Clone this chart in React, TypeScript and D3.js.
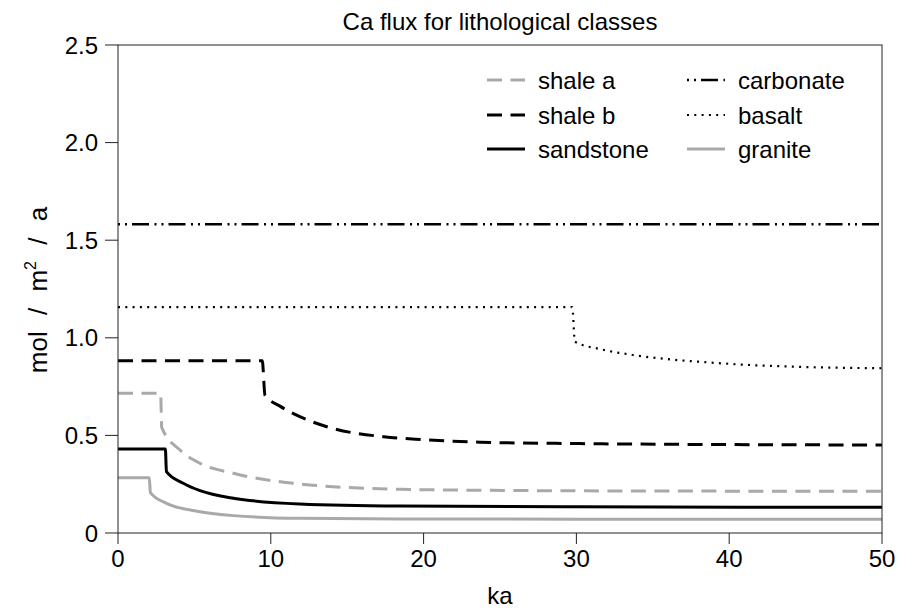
import React from "react";
import * as d3 from "d3";

const title = "Ca flux for lithological classes";
const xTicks = [0, 10, 20, 30, 40, 50];
const yTicks = [0, 0.5, 1.0, 1.5, 2.0, 2.5];
const yTickLabels = ["0", "0.5", "1.0", "1.5", "2.0", "2.5"];

const carbonateT = [0, 50];
const carbonateV = [1.582, 1.582];

const basaltT = [0, 29.73, 29.9, 31.5, 33.7, 35.9, 38.1, 41, 44.2, 50];
const basaltV = [1.157, 1.157, 0.98, 0.943, 0.912, 0.891, 0.877, 0.862, 0.852, 0.844];

const shaleBT = [0, 9.44, 9.62, 10.6, 11.9, 14, 17.4, 20, 23.7, 30.2, 40, 50];
const shaleBV = [0.883, 0.883, 0.705, 0.65, 0.596, 0.537, 0.493, 0.478, 0.465, 0.458, 0.453, 0.451];

const shaleAT = [0, 2.79, 2.86, 4.06, 5.37, 7.55, 11.9, 18.45, 23.7, 35, 50];
const shaleAV = [0.716, 0.716, 0.541, 0.425, 0.357, 0.306, 0.251, 0.224, 0.219, 0.215, 0.214];

const sandstoneT = [0, 3.1, 3.17, 4.27, 5.37, 7.55, 11.9, 18.45, 30, 50];
const sandstoneV = [0.43, 0.43, 0.314, 0.255, 0.217, 0.178, 0.149, 0.138, 0.134, 0.132];

const graniteT = [0, 2.05, 2.12, 3.18, 5.37, 7.55, 11.9, 18.45, 30, 50];
const graniteV = [0.283, 0.283, 0.207, 0.152, 0.109, 0.089, 0.075, 0.072, 0.071, 0.071];

const GREY = "#a9a9a9";

const series = [
  { name: "shale a", t: shaleAT, v: shaleAV, color: GREY, width: 3, dash: "15,8.5", col: 0, row: 0 },
  { name: "shale b", t: shaleBT, v: shaleBV, color: "#000", width: 3, dash: "15,8.5", col: 0, row: 1 },
  { name: "sandstone", t: sandstoneT, v: sandstoneV, color: "#000", width: 3, dash: "", col: 0, row: 2 },
  { name: "carbonate", t: carbonateT, v: carbonateV, color: "#000", width: 2.5, dash: "2,5,2,5,17,5.5", col: 1, row: 0 },
  { name: "basalt", t: basaltT, v: basaltV, color: "#000", width: 2.2, dash: "2,5.3", col: 1, row: 1 },
  { name: "granite", t: graniteT, v: graniteV, color: GREY, width: 3, dash: "", col: 1, row: 2 },
];

const W = 898;
const H = 609;
const left = 118, right = 882, top = 45, bottom = 533;
const FONT = "'Liberation Sans', Arial, Helvetica, sans-serif";
const FS = 24;

export default function App() {
  const x = d3.scaleLinear().domain([0, 50]).range([left, right]);
  const y = d3.scaleLinear().domain([0, 2.5]).range([bottom, top]);
  const line = d3
    .line<[number, number]>()
    .x((d) => x(d[0]))
    .y((d) => y(d[1]))
    .curve(d3.curveMonotoneX);

  const legX = [487, 687];
  const legY = [80, 115, 149];

  return (
    <svg width={W} height={H} style={{ position: "absolute", left: 0, top: 0, background: "#fff" }} fontFamily={FONT}>
      <rect x={0} y={0} width={W} height={H} fill="#fff" />
      <text x={(left + right) / 2} y={30} textAnchor="middle" fontSize={FS} fill="#000">
        {title}
      </text>
      <defs>
        <clipPath id="plot">
          <rect x={left} y={top} width={right - left} height={bottom - top} />
        </clipPath>
      </defs>
      <g clipPath="url(#plot)">
        {series.map((s) => (
          <path
            key={s.name}
            d={line(s.t.map((t, i) => [t, s.v[i]] as [number, number])) || ""}
            fill="none"
            stroke={s.color}
            strokeWidth={s.width}
            strokeDasharray={s.dash || undefined}
          />
        ))}
      </g>
      <rect x={left} y={top} width={right - left} height={bottom - top} fill="none" stroke="#222" strokeWidth={1} />
      {xTicks.map((t) => (
        <g key={"x" + t}>
          <line x1={x(t)} x2={x(t)} y1={bottom} y2={bottom + 11} stroke="#222" strokeWidth={1} />
          <text x={x(t)} y={bottom + 34} textAnchor="middle" fontSize={FS} fill="#000">
            {t}
          </text>
        </g>
      ))}
      {yTicks.map((t, i) => (
        <g key={"y" + t}>
          <line x1={left - 13} x2={left} y1={y(t)} y2={y(t)} stroke="#222" strokeWidth={1} />
          <text x={left - 20} y={y(t) + 8.5} textAnchor="end" fontSize={FS} fill="#000">
            {yTickLabels[i]}
          </text>
        </g>
      ))}
      <text x={(left + right) / 2} y={604} textAnchor="middle" fontSize={FS} fill="#000">
        ka
      </text>
      <text
        transform={`translate(${47},${290}) rotate(-90)`}
        textAnchor="middle"
        fontSize={26}
        fill="#000"
        style={{ wordSpacing: "9px" }}
      >
        mol / m<tspan dy={-11} fontSize={16}>2</tspan>
        <tspan dy={11}> / a</tspan>
      </text>
      {series.map((s) => (
        <g key={"leg" + s.name}>
          <line
            x1={legX[s.col]}
            x2={legX[s.col] + 38}
            y1={legY[s.row]}
            y2={legY[s.row]}
            stroke={s.color}
            strokeWidth={s.width}
            strokeDasharray={s.dash || undefined}
          />
          <text x={legX[s.col] + 51} y={legY[s.row] + 8.5} fontSize={FS} fill="#000">
            {s.name}
          </text>
        </g>
      ))}
    </svg>
  );
}
